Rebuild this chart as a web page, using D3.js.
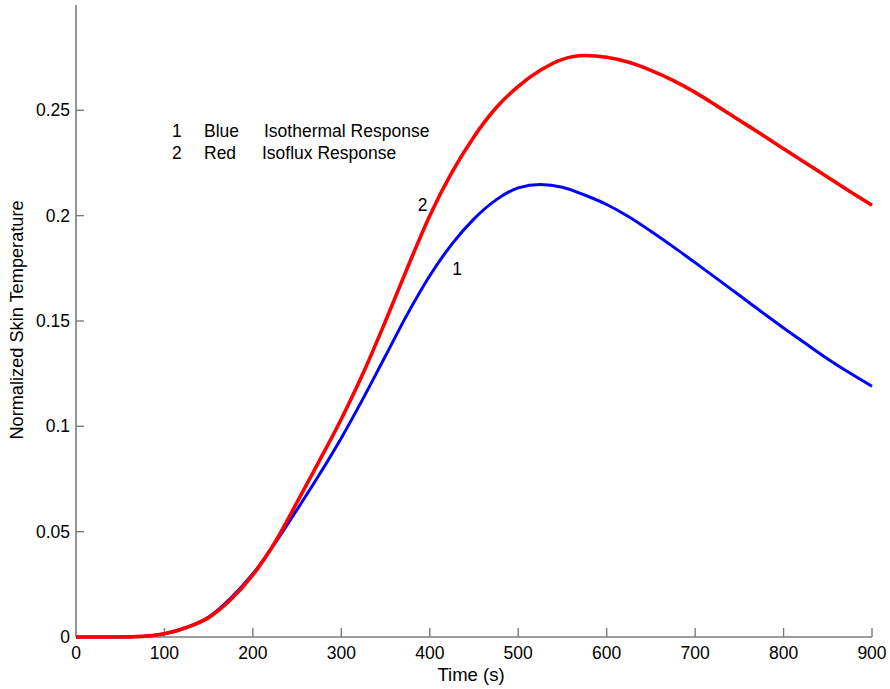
<!DOCTYPE html>
<html>
<head>
<meta charset="utf-8">
<script src="https://cdn.jsdelivr.net/npm/d3@7"></script>
<style>
    body { margin: 0; background: #fff; }
    text { font-family: Arial, "Liberation Sans", sans-serif; fill: #000; }
</style>
</head>
<body>
<div id="chart"></div>
<script>
// time samples (s)
let times = [0, 25, 50, 75, 100, 125, 150, 175, 200, 225, 250, 275, 300, 325, 350, 375, 400, 425, 450,
    475, 500, 525, 550, 575, 600, 625, 650, 675, 700, 725, 750, 775, 800, 825, 850, 875, 900];

// 1 - Blue, isothermal response
let isothermal = [0, 0, 0, 0.0002, 0.0015, 0.0045, 0.0095, 0.0185, 0.030, 0.0445, 0.0605, 0.077, 0.0945,
    0.1135, 0.1335, 0.1535, 0.1715, 0.1865, 0.1985, 0.2075, 0.2132, 0.2148, 0.2135, 0.2098, 0.2053, 0.1995,
    0.1926, 0.1853, 0.1777, 0.170, 0.1622, 0.1544, 0.1467, 0.1393, 0.132, 0.1253, 0.119];

// 2 - Red, isoflux response
let isoflux = [0, 0, 0, 0.0003, 0.0015, 0.0045, 0.0092, 0.0178, 0.0295, 0.045, 0.064, 0.0835, 0.1035,
    0.1255, 0.150, 0.1755, 0.200, 0.2205, 0.2375, 0.2512, 0.2614, 0.269, 0.2742, 0.276, 0.2752, 0.2728,
    0.269, 0.2642, 0.2585, 0.252, 0.2453, 0.2386, 0.2318, 0.225, 0.2182, 0.2115, 0.2049];

let xTicks = [0, 100, 200, 300, 400, 500, 600, 700, 800, 900];
let yTicks = [0, 0.05, 0.1, 0.15, 0.2, 0.25];

let legendRows = [
    {num: "1", color: "Blue", name: "Isothermal Response"},
    {num: "2", color: "Red", name: "Isoflux Response"}
];

let margin = {top: 5, right: 18, bottom: 52, left: 76};
let width = 890 - margin.left - margin.right;
let height = 689 - margin.top - margin.bottom;

let svg = d3.select("#chart").append("svg")
    .attr("width", 890)
    .attr("height", 689)
    .append("g")
    .attr("transform", "translate(" + margin.left + "," + margin.top + ")");

let x = d3.scaleLinear().domain([0, 900]).range([0, width]);
let y = d3.scaleLinear().domain([0, 0.3]).range([height, 0]);

let axisColor = "#7a7a7a";

// axis lines
svg.append("line")
    .attr("x1", 0).attr("x2", 0)
    .attr("y1", 0).attr("y2", height)
    .attr("stroke", axisColor).attr("stroke-width", 1.6);

svg.append("line")
    .attr("x1", 0).attr("x2", width)
    .attr("y1", height).attr("y2", height)
    .attr("stroke", axisColor).attr("stroke-width", 1.6);

// x ticks (inside)
svg.selectAll(".xtick")
    .data(xTicks.filter(d => d > 0))
    .enter()
    .append("line")
    .attr("x1", d => x(d)).attr("x2", d => x(d))
    .attr("y1", height).attr("y2", height - 9)
    .attr("stroke", axisColor).attr("stroke-width", 1.4);

svg.selectAll(".xlabel")
    .data(xTicks)
    .enter()
    .append("text")
    .attr("x", d => x(d))
    .attr("y", height + 22)
    .attr("text-anchor", "middle")
    .style("font-size", "17.5px")
    .text(d => d);

// y ticks (inside)
svg.selectAll(".ytick")
    .data(yTicks.filter(d => d > 0))
    .enter()
    .append("line")
    .attr("x1", 0).attr("x2", 8)
    .attr("y1", d => y(d)).attr("y2", d => y(d))
    .attr("stroke", axisColor).attr("stroke-width", 1.4);

svg.selectAll(".ylabel")
    .data(yTicks)
    .enter()
    .append("text")
    .attr("x", -6)
    .attr("y", d => y(d))
    .attr("dy", "0.35em")
    .attr("text-anchor", "end")
    .style("font-size", "17.5px")
    .text(d => d);

// axis titles
svg.append("text")
    .attr("x", x(450) - 3)
    .attr("y", height + 44)
    .attr("text-anchor", "middle")
    .style("font-size", "18.5px")
    .text("Time (s)");

svg.append("text")
    .attr("transform", "translate(" + (-59) + "," + (y(0.15) - 1) + ") rotate(-90)")
    .attr("dy", "0.35em")
    .attr("text-anchor", "middle")
    .style("font-size", "18.2px")
    .text("Normalized Skin Temperature");

// curves
let line = d3.line()
    .x((d, i) => x(times[i]))
    .y(d => y(d))
    .curve(d3.curveMonotoneX);

svg.append("path")
    .datum(isothermal)
    .attr("d", line)
    .attr("fill", "none")
    .attr("stroke", "#0000ff")
    .attr("stroke-width", 3);

svg.append("path")
    .datum(isoflux)
    .attr("d", line)
    .attr("fill", "none")
    .attr("stroke", "#ff0000")
    .attr("stroke-width", 3.6);

// curve labels
svg.append("text")
    .attr("x", x(392)).attr("y", y(0.2) - 5)
    .attr("text-anchor", "middle")
    .style("font-size", "17.5px")
    .text("2");

svg.append("text")
    .attr("x", x(431)).attr("y", y(0.17) - 4)
    .attr("text-anchor", "middle")
    .style("font-size", "17.5px")
    .text("1");

// legend text
let legend = svg.append("g")
    .attr("transform", "translate(" + (172 - margin.left) + "," + (137 - margin.top) + ")");

legendRows.forEach((r, i) => {
    let row = legend.append("g").attr("transform", "translate(0," + (i * 22) + ")");
    row.append("text").attr("x", 0).style("font-size", "17.5px").text(r.num);
    row.append("text").attr("x", 32).style("font-size", "17.5px").text(r.color);
    row.append("text").attr("x", i == 0 ? 92 : 90).style("font-size", "17.5px").text(r.name);
});
</script>
</body>
</html>
